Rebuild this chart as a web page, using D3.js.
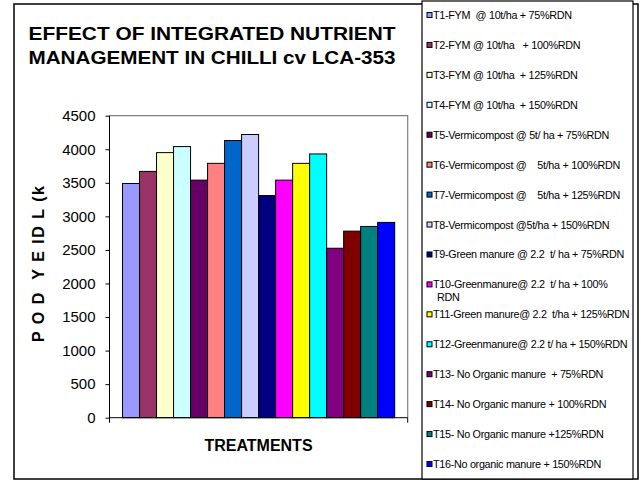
<!DOCTYPE html>
<html>
<head>
<meta charset="utf-8">
<script src="https://cdn.jsdelivr.net/npm/d3@7"></script>
<style>
  html, body { margin: 0; padding: 0; background: #fff; }
  svg { display: block; font-family: "Liberation Sans", Arial, sans-serif; }
  text { white-space: pre; }
</style>
</head>
<body>
<svg id="chart" width="641" height="480"></svg>
<script>
// Pod yield (kg/ha) of chilli cv LCA-353 under 16 nutrient treatments
const treatments = ["T1","T2","T3","T4","T5","T6","T7","T8","T9","T10","T11","T12","T13","T14","T15","T16"];
const yields = [3490, 3670, 3950, 4040, 3540, 3790, 4130, 4220, 3310, 3540, 3790, 3930, 2525, 2780, 2850, 2910];
const colors = ["#9999FF","#993366","#FFFFCC","#CCFFFF","#660066","#FF8080","#0066CC","#CCCCFF",
                "#000080","#FF00FF","#FFFF00","#00FFFF","#800080","#800000","#008080","#0000FF"];
const legendLabels = [
  ["T1-FYM  @ 10t/ha + 75%RDN"],
  ["T2-FYM @ 10t/ha   + 100%RDN"],
  ["T3-FYM @ 10t/ha  + 125%RDN"],
  ["T4-FYM @ 10t/ha  + 150%RDN"],
  ["T5-Vermicompost @ 5t/ ha + 75%RDN"],
  ["T6-Vermicompost @    5t/ha + 100%RDN"],
  ["T7-Vermicompost @    5t/ha + 125%RDN"],
  ["T8-Vermicompost @5t/ha + 150%RDN"],
  ["T9-Green manure @ 2.2  t/ ha + 75%RDN"],
  ["T10-Greenmanure@ 2.2  t/ ha + 100%", "RDN"],
  ["T11-Green manure@ 2.2  t/ha + 125%RDN"],
  ["T12-Greenmanure@ 2.2 t/ ha + 150%RDN"],
  ["T13- No Organic manure  + 75%RDN"],
  ["T14- No Organic manure + 100%RDN"],
  ["T15- No Organic manure +125%RDN"],
  ["T16-No organic manure + 150%RDN"]
];
const yTicks = [0, 500, 1000, 1500, 2000, 2500, 3000, 3500, 4000, 4500];
const titleLines = ["EFFECT OF INTEGRATED NUTRIENT", "MANAGEMENT IN CHILLI cv LCA-353"];

const svg = d3.select("#chart");

// chart area frame
svg.append("rect").attr("x", 14).attr("y", 4).attr("width", 624).attr("height", 475)
  .attr("fill", "#fff").attr("stroke", "#000").attr("stroke-width", 1.5);

// plot geometry
const plot = { left: 109.5, right: 407.7, top: 115.7, bottom: 417.7 };

const x = d3.scaleBand().domain(treatments)
  .range([plot.left, plot.right]).paddingInner(0).paddingOuter(0.765);
const y = d3.scaleLinear().domain([0, 4500]).range([plot.bottom, plot.top]);

// plot area outline (top and right, grey)
svg.append("path")
  .attr("d", `M${plot.left},${plot.top}H${plot.right}V${plot.bottom}`)
  .attr("fill", "none").attr("stroke", "#808080").attr("stroke-width", 1.2);

// bars
svg.append("g").selectAll("rect").data(treatments).join("rect")
  .attr("x", d => x(d))
  .attr("y", (d, i) => y(yields[i]))
  .attr("width", x.bandwidth())
  .attr("height", (d, i) => y(0) - y(yields[i]))
  .attr("fill", (d, i) => colors[i])
  .attr("stroke", "#000").attr("stroke-width", 1);

// y axis
const yAxis = svg.append("g").attr("transform", `translate(${plot.left},0)`)
  .call(d3.axisLeft(y).tickValues(yTicks).tickFormat(d3.format("d")).tickSize(4).tickPadding(10));
yAxis.select(".domain").attr("d", `M-0,${plot.top}V${plot.bottom + 5}`).attr("stroke", "#000");
yAxis.selectAll("text").attr("font-size", 15).attr("fill", "#000")
  .attr("font-family", "'Liberation Sans', Arial, sans-serif");
yAxis.selectAll("line").attr("stroke", "#000");

// x axis baseline with edge ticks
svg.append("path")
  .attr("d", `M${plot.left},${plot.bottom}H${plot.right}M${plot.right},${plot.bottom}V${plot.bottom + 5}`)
  .attr("fill", "none").attr("stroke", "#000").attr("stroke-width", 1);

// title
svg.append("g").selectAll("text").data(titleLines).join("text")
  .attr("x", 212).attr("y", (d, i) => 39.5 + i * 24)
  .attr("text-anchor", "middle")
  .attr("font-size", 18.5).attr("font-weight", "bold")
  .attr("textLength", 367).attr("lengthAdjust", "spacingAndGlyphs")
  .text(d => d);

// axis titles
svg.append("text").attr("x", 258.5).attr("y", 450.5).attr("text-anchor", "middle")
  .attr("font-size", 16).attr("font-weight", "bold").text("TREATMENTS");

svg.append("clipPath").attr("id", "ytclip")
  .append("rect").attr("x", 20).attr("y", 184).attr("width", 40).attr("height", 200);
svg.append("g").attr("clip-path", "url(#ytclip)")
  .append("text")
  .attr("transform", "translate(44,342) rotate(-90)")
  .attr("font-size", 16).attr("font-weight", "bold").attr("letter-spacing", 1.5)
  .text("P O D  Y E ID L (kg/ha)");

// legend
svg.append("rect").attr("x", 422).attr("y", 1).attr("width", 211).attr("height", 478)
  .attr("fill", "#fff").attr("stroke", "#000").attr("stroke-width", 1.2);

const legendY = d3.scaleLinear().domain([0, treatments.length - 1]).range([15, 464]);
const items = svg.append("g").selectAll("g").data(treatments).join("g")
  .attr("transform", (d, i) => `translate(427,${legendY(i)})`);
items.append("rect").attr("x", 0).attr("y", -2.5).attr("width", 5).attr("height", 5)
  .attr("fill", (d, i) => colors[i]).attr("stroke", "#000").attr("stroke-width", 1);
items.append("text").attr("font-size", 10.8).attr("letter-spacing", -0.3).attr("fill", "#000")
  .selectAll("tspan").data((d, i) => legendLabels[i]).join("tspan")
  .attr("x", (d, j) => j === 0 ? 6 : 10).attr("y", (d, j) => 4 + j * 12.7).text(d => d);
</script>
</body>
</html>
